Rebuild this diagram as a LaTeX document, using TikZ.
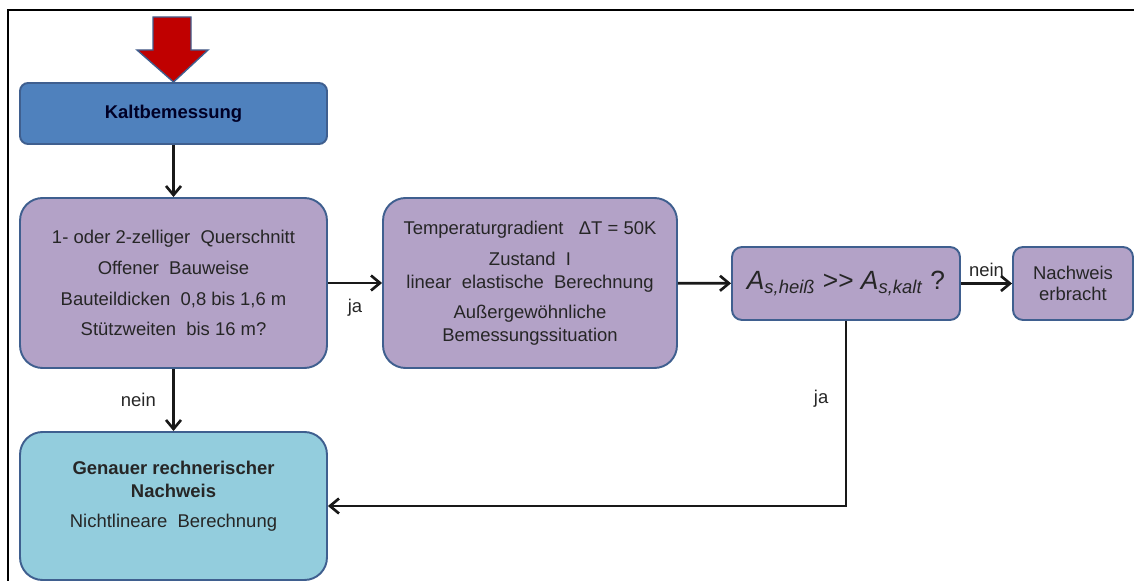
\documentclass[tikz,border=0pt]{standalone}
\usepackage{fontspec}
\setmainfont{Liberation Sans}
\usetikzlibrary{arrows.meta,positioning}

\definecolor{kaltblau}{HTML}{4F81BD}
\definecolor{rahmen}{HTML}{3F5F8F}
\definecolor{lila}{HTML}{B3A2C7}
\definecolor{hellblau}{HTML}{93CDDD}
\definecolor{pfeilrot}{HTML}{C00000}
\definecolor{schrift}{HTML}{262626}

\tikzset{
	box/.style={draw=rahmen, line width=1.1pt, align=center, text=schrift,
		inner sep=2pt, font=\fontsize{10.5}{13}\selectfont},
	kaltbox/.style={box, fill=kaltblau, rounded corners=0.16cm,
		minimum width=6.14cm, minimum height=1.22cm,
		font=\bfseries\fontsize{10.5}{13}\selectfont, text=black!85!blue},
	lilabox/.style={box, fill=lila},
	blaubox/.style={box, fill=hellblau, rounded corners=0.45cm},
	flow/.style={line width=1.5pt, draw=black!90,
		-{Straight Barb[length=1.8mm,width=3mm]}},
	lbl/.style={font=\fontsize{10.5}{13}\selectfont, text=schrift}
}

\begin{document}
\begin{tikzpicture}[x=0.02cm, y=-0.02cm]
	\useasboundingbox (0,0) rectangle (1134,581);
	% frame
	\draw[line width=1.5pt] (8,581) |- (1134,10);

	\node[kaltbox] (K0) at (173.5,113.5) {Kaltbemessung};
	\node[lilabox, rounded corners=0.45cm, minimum width=6.14cm, minimum height=3.4cm] (Q1) at (173.5,283)
		{1- oder 2-zelliger\ \ Querschnitt\\[4.6pt] Offener\ \ Bauweise\\[4.6pt]
		 Bauteildicken\ \ 0,8 bis 1,6 m\\[4.6pt] Stützweiten\ \ bis 16 m?};
	\node[lilabox, rounded corners=0.45cm, minimum width=5.88cm, minimum height=3.4cm] (T2) at (530,283)
		{Temperaturgradient\ \ \ ΔT = 50K\\[5pt] Zustand\ \ I\\
		 linear\ \ elastische\ \ Berechnung\\[4pt] Außergewöhnliche\\ Bemessungssituation};
	\node[lilabox, rounded corners=0.2cm, minimum width=4.56cm, minimum height=1.46cm] (A3) at (846,283.5)
		{\fontsize{15}{17}\selectfont\textit{A}\textsubscript{\textit{s,heiß}} >\kern0pt> \textit{A}\textsubscript{\textit{s,kalt}} ?};
	\node[lilabox, rounded corners=0.2cm, minimum width=2.4cm, minimum height=1.46cm,
		font=\fontsize{10.5}{11.5}\selectfont] (N4) at (1073,283.5) {Nachweis\\ erbracht};
	\node[blaubox, minimum width=6.14cm, minimum height=2.96cm] (G5) at (173.5,506)
		{\textbf{Genauer rechnerischer}\\ \textbf{Nachweis}\\[4pt] Nichtlineare\ \ Berechnung\\ \mbox{}};

	% block arrow on top
	\draw[fill=pfeilrot, draw=rahmen, line width=0.8pt]
		(153,17) -- (191,17) -- (191,50) -- (208,50) -- (K0.north) -- (137,50) -- (153,50) -- cycle;

	\draw[flow] (K0) -- (Q1);
	\draw[flow] (Q1) -- node[lbl, below=5pt] {ja} (T2);
	\draw[flow] (T2) -- (A3);
	\draw[flow] (A3) -- node[lbl, above] {nein} (N4);
	\draw[flow] (Q1) -- node[lbl, left=6pt] {nein} (G5);
	\draw[flow] (A3.south) |- node[lbl, pos=0.21, left=6pt] {ja} (G5.east);
\end{tikzpicture}
\end{document}
